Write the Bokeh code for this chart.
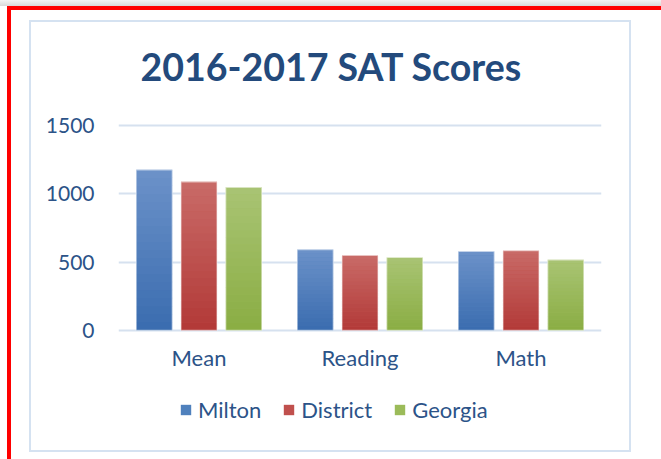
from bokeh.plotting import figure
from bokeh.models import (Range1d, FactorRange, Legend, LegendItem, ColumnDataSource)
from bokeh.transform import dodge
from bokeh.embed import file_html
from bokeh.resources import INLINE

# ---- data ----
categories = ["Mean", "Reading", "Math"]
series = ["Milton", "District", "Georgia"]
milton = [1175, 590, 578]
district = [1087, 548, 583]
georgia = [1047, 533, 516]
y_ticks = [0, 500, 1000, 1500]
title_text = "2016-2017 SAT Scores"

# ---- style ----
FONT = "Lato"
TEXT_COLOR = "#2C5388"
TITLE_COLOR = "#234A7C"
GRID_COLOR = "#D6E1EF"
base_colors = ["#4F81BD", "#C0504D", "#9BBB59"]
top_colors = ["#6C92C9", "#C96B68", "#A9C474"]
bot_colors = ["#3A6CAF", "#B23937", "#8AAD43"]
offsets = [-0.278, 0.0, 0.278]
BAR_W = 0.224
N_BANDS = 20

# frame spans from just above the 1500 line down to the bottom of the chart box,
# so the legend can live inside it; the category axis is pinned at y = 0
p = figure(width=661, height=459, x_range=FactorRange(*categories),
           y_range=Range1d(-859, 1515), output_backend="svg",
           toolbar_location=None, title=title_text,
           min_border_left=118, min_border_right=60,
           min_border_top=123, min_border_bottom=12)

p.background_fill_color = "white"
p.border_fill_color = None
p.outline_line_color = None

# page decoration: outer red frame, top shadow and light-blue chart border
bars = [
    ("linear-gradient(#FF0000,#FF0000)", "7px 6px", "4px 100%"),
    ("linear-gradient(#FF0000,#FF0000)", "7px 6px", "100% 4px"),
    ("linear-gradient(#F4F4F4,#D9D9D9)", "0px 0px", "100% 6px"),
    ("linear-gradient(#D5E2F1,#D5E2F1)", "29px 20px", "2px 432px"),
    ("linear-gradient(#D5E2F1,#D5E2F1)", "629px 20px", "2px 432px"),
    ("linear-gradient(#D5E2F1,#D5E2F1)", "29px 20px", "602px 2px"),
    ("linear-gradient(#D5E2F1,#D5E2F1)", "29px 450px", "602px 2px"),
]
p.styles = {
    "background-color": "white",
    "background-image": ", ".join(b[0] for b in bars),
    "background-position": ", ".join(b[1] for b in bars),
    "background-size": ", ".join(b[2] for b in bars),
    "background-repeat": "no-repeat",
}

p.title.text_font = FONT
p.title.text_font_style = "bold"
p.title.text_font_size = "37.5px"
p.title.text_color = TITLE_COLOR
p.title.align = "left"
p.title.offset = 22
p.title.standoff = 70


def hex_to_rgb(h):
    h = h.lstrip("#")
    return tuple(int(h[i:i + 2], 16) for i in (0, 2, 4))


def mix(c1, c2, t):
    a, b = hex_to_rgb(c1), hex_to_rgb(c2)
    return "#%02x%02x%02x" % tuple(int(round(a[i] + (b[i] - a[i]) * t)) for i in range(3))


values = [milton, district, georgia]
legend_items = []
for s, (name, vals) in enumerate(zip(series, values)):
    src = ColumnDataSource(dict(cat=categories, v=vals))
    base = p.vbar(x=dodge("cat", offsets[s], range=p.x_range), top="v", bottom=0,
                  width=BAR_W, source=src, fill_color=base_colors[s], line_color=None)
    legend_items.append(LegendItem(label=name, renderers=[base]))
    # vertical gradient bands
    xs, bots, tops, cols = [], [], [], []
    for c, v in zip(categories, vals):
        for i in range(N_BANDS):
            xs.append(c)
            bots.append(v * i / N_BANDS)
            tops.append(v * (i + 1) / N_BANDS + v * 0.002)
            cols.append(mix(bot_colors[s], top_colors[s], (i + 0.5) / N_BANDS))
    bsrc = ColumnDataSource(dict(cat=xs, b=bots, t=tops, c=cols))
    p.vbar(x=dodge("cat", offsets[s], range=p.x_range), top="t", bottom="b",
           width=BAR_W, source=bsrc, fill_color="c", line_color=None)
    p.vbar(x=dodge("cat", offsets[s], range=p.x_range), top="v", bottom=0,
           width=BAR_W, source=src, fill_color=None, line_color="white",
           line_alpha=0.55, line_width=1.2)

# axes
p.yaxis.ticker = y_ticks
p.yaxis.axis_line_color = None
p.yaxis.major_tick_line_color = None
p.yaxis.minor_tick_line_color = None
p.yaxis.major_tick_out = 0
p.yaxis.major_tick_in = 0
p.yaxis.major_label_standoff = 24
p.yaxis.major_label_text_font = FONT
p.yaxis.major_label_text_font_size = "21px"
p.yaxis.major_label_text_color = TEXT_COLOR

p.xaxis.fixed_location = 0
p.xaxis.axis_line_color = None
p.xaxis.major_tick_line_color = None
p.xaxis.major_tick_out = 0
p.xaxis.major_tick_in = 0
p.xaxis.major_label_standoff = 14
p.xaxis.major_label_text_font = FONT
p.xaxis.major_label_text_font_size = "22px"
p.xaxis.major_label_text_color = TEXT_COLOR

p.xgrid.grid_line_color = None
p.ygrid.grid_line_color = GRID_COLOR
p.ygrid.grid_line_width = 2

legend = Legend(items=legend_items, orientation="horizontal", location=(61, 24),
                glyph_width=13, glyph_height=13, label_standoff=6, spacing=21,
                padding=0, margin=0, border_line_color=None,
                background_fill_alpha=0,
                label_text_font=FONT, label_text_font_size="22px",
                label_text_color=TEXT_COLOR)
p.add_layout(legend, "center")

open("out.html", "w").write(file_html(p, INLINE))
